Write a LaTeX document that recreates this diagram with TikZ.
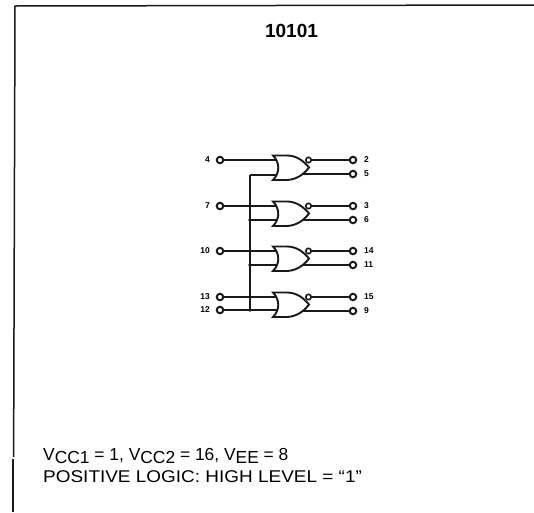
\documentclass[tikz,border=0pt]{standalone}
\usepackage{fontspec}
\setmainfont{Liberation Sans}
\tikzset{
  wire/.style={line width=1.4pt,black!90},
  frameline/.style={line width=1.5pt,black!90},
  pin/.style={circle,draw=black!90,line width=2pt,fill=white,minimum size=6.5pt,inner sep=0pt},
  bubble/.style={circle,draw=black!90,line width=1.6pt,fill=white,minimum size=5.4pt,inner sep=0pt},
  dotj/.style={circle,fill=black!90,minimum size=3.8pt,inner sep=0pt},
  lab/.style={font=\fontsize{8.5}{10}\selectfont\bfseries,inner sep=0pt},
  txt/.style={inner sep=0pt,anchor=base west}
}
\newcommand{\norgate}[2]{%
  \draw[wire,line width=1.9pt,fill=white] (#1-1,#2-4.5) -- (#1+13,#2-4.5)
    .. controls (#1+23,#2-4.5) and (#1+30,#2+1.5) .. (#1+35,#2+7.5)
    .. controls (#1+30,#2+14) and (#1+23,#2+19.5) .. (#1+13,#2+20)
    -- (#1-1,#2+20)
    .. controls (#1+6,#2+13) and (#1+6,#2+2.5) .. cycle;
}
\begin{document}
\begin{tikzpicture}[x=1pt,y=-1pt]
\useasboundingbox (0,0) rectangle (534,512);
\fill[white] (0,0) rectangle (534,512);
\coordinate (tl) at (15,6); \coordinate (tr) at (534,5);
\coordinate (bm) at (13.6,457); \coordinate (bm2) at (13,459);
\coordinate (bl) at (13,512);
\draw[frameline] (tr) -- (tl) -- (bm);
\draw[frameline] (bm2) -- (bl);
\node[font=\fontsize{19}{22}\selectfont\bfseries,inner sep=0pt] (title) at (291.5,31) {10101};

\foreach \y/\a/\b/\c in {160/4/2/5,206/7/3/6,251/10/14/11,297/13/15/9}{
  \node[pin] (in\a) at (220,\y) {};
  \node[pin] (outa\a) at (353,\y) {};
  \node[pin] (outb\a) at (353,\y+14) {};
  \draw[wire] (in\a) -- (279,\y);
  \draw[wire] (outa\a) -- (308,\y);
  \draw[wire] (outb\a) -- (298,\y+14);
  \node[lab,anchor=east] at (210,\y-0.5) {\a};
  \node[lab,anchor=west] at (364,\y) {\b};
  \node[lab,anchor=west] at (364,\y+14) {\c};
}
\node[pin] (in12) at (220,310) {};
\node[lab,anchor=east] at (210,310) {12};
\coordinate (j1) at (250,175); \coordinate (j2) at (250,220); \coordinate (j3) at (250,265); \coordinate (j4) at (250,310);
\draw[wire] (j1) -- (j4);
\draw[wire] (j1) -- (279,175); \draw[wire] (j2) -- (279,220); \draw[wire] (j3) -- (279,265); \draw[wire] (in12) -- (279,310);
\foreach \y in {160,206,251,297}{ \norgate{274}{\y} \node[bubble] at (308.5,\y) {}; }
\node[dotj] at (j2) {}; \node[dotj] at (j3) {}; \node[dotj] at (j4) {};

\node[txt,font=\fontsize{17.4}{20}\selectfont] (power) at (43,460) {V\raisebox{-3pt}{CC1} = 1, V\raisebox{-3pt}{CC2} = 16, V\raisebox{-3pt}{EE} = 8};
\node[txt,font=\fontsize{17}{20}\selectfont] (logic) at (43,482) {\scalebox{1.115}[1]{POSITIVE LOGIC: HIGH LEVEL = “1”}};
\end{tikzpicture}
\end{document}
